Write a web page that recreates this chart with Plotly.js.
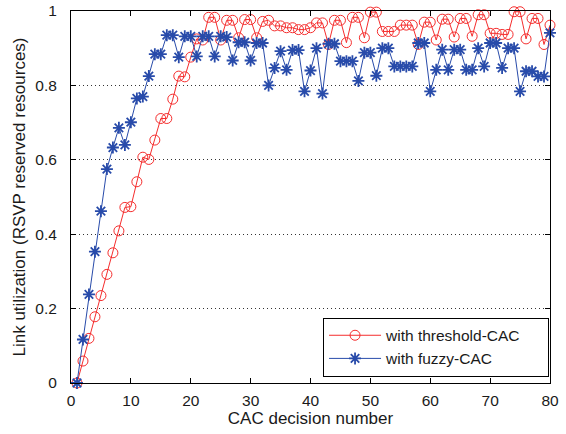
<!DOCTYPE html>
<html>
<head>
<meta charset="utf-8">
<script src="https://cdn.plot.ly/plotly-3.0.1.min.js"></script>
<style>html,body{margin:0;padding:0;background:#fff;}#chart{width:566px;height:434px;}</style>
</head>
<body>
<div id="chart"></div>
<script>
// CAC decision numbers 1..80
const decisions = [];
for (let i = 1; i <= 80; i++) decisions.push(i);

const thresholdCAC = [
  0, 0.059, 0.120, 0.178, 0.235, 0.292, 0.350, 0.409, 0.472, 0.474,
  0.541, 0.607, 0.601, 0.653, 0.711, 0.711, 0.763, 0.825, 0.823, 0.876,
  0.925, 0.922, 0.983, 0.983, 0.922, 0.975, 0.975, 0.928, 0.977, 0.977,
  0.928, 0.972, 0.975, 0.960, 0.960, 0.955, 0.955, 0.950, 0.950, 0.955,
  0.968, 0.968, 0.910, 0.975, 0.975, 0.915, 0.983, 0.983, 0.928, 0.997,
  0.997, 0.945, 0.945, 0.945, 0.962, 0.962, 0.962, 0.910, 0.970, 0.970,
  0.922, 0.978, 0.978, 0.930, 0.980, 0.980, 0.932, 0.990, 0.990, 0.940,
  0.940, 0.937, 0.937, 0.998, 0.998, 0.925, 0.980, 0.980, 0.910, 0.962
];

const fuzzyCAC = [
  0, 0.117, 0.238, 0.353, 0.462, 0.575, 0.633, 0.686, 0.640, 0.701,
  0.765, 0.770, 0.825, 0.884, 0.884, 0.935, 0.935, 0.876, 0.932, 0.932,
  0.878, 0.932, 0.932, 0.878, 0.932, 0.930, 0.867, 0.916, 0.916, 0.867,
  0.914, 0.914, 0.800, 0.847, 0.892, 0.842, 0.895, 0.895, 0.784, 0.840,
  0.900, 0.778, 0.912, 0.912, 0.865, 0.865, 0.865, 0.812, 0.888, 0.888,
  0.826, 0.900, 0.900, 0.851, 0.851, 0.851, 0.851, 0.914, 0.914, 0.784,
  0.842, 0.896, 0.842, 0.896, 0.896, 0.842, 0.842, 0.900, 0.851, 0.914,
  0.914, 0.847, 0.900, 0.900, 0.784, 0.838, 0.838, 0.824, 0.824, 0.941
];

const seriesNames = ['with threshold-CAC', 'with fuzzy-CAC'];
const xTicks = [0, 10, 20, 30, 40, 50, 60, 70, 80];
const yTicks = [0, 0.2, 0.4, 0.6, 0.8, 1];
const yTickLabels = ['0', '0.2', '0.4', '0.6', '0.8', '1'];

const RED = 'rgb(245,45,45)';
const BLUE = 'rgb(40,75,170)';
const FONT = 'Liberation Sans, Arial, sans-serif';
const PAD = '\u00a0\u00a0\u00a0\u00a0\u00a0';

const traces = [
  {
    x: decisions, y: thresholdCAC, name: seriesNames[0] + PAD,
    type: 'scatter', mode: 'lines+markers', cliponaxis: false,
    line: {color: RED, width: 1},
    marker: {symbol: 'circle-open', size: 10, color: RED, line: {color: RED, width: 1}}
  },
  {
    x: decisions, y: fuzzyCAC, name: seriesNames[1],
    type: 'scatter', mode: 'lines+markers', cliponaxis: false,
    line: {color: BLUE, width: 1},
    marker: {symbol: 'asterisk-open', size: 10, color: BLUE, line: {color: BLUE, width: 1.8}}
  }
];

const layout = {
  width: 566, height: 434,
  margin: {l: 71, r: 16, t: 11, b: 51, pad: 0},
  paper_bgcolor: '#fff', plot_bgcolor: '#fff',
  font: {family: FONT, size: 15, color: '#1a1a1a'},
  showlegend: true,
  legend: {
    x: 0.998, y: 0.017, xanchor: 'right', yanchor: 'bottom',
    bgcolor: '#fff', bordercolor: '#000', borderwidth: 1,
    font: {family: FONT, size: 15.5, color: '#1a1a1a'},
    itemwidth: 52, tracegroupgap: 4
  },
  xaxis: {
    range: [0, 80], tickvals: xTicks, ticktext: xTicks.map(String),
    ticks: 'inside', ticklen: 5, tickcolor: '#000', mirror: 'ticks',
    showline: true, linecolor: '#000', linewidth: 1,
    showgrid: false, zeroline: false, ticklabelstandoff: 3,
    tickfont: {family: FONT, size: 15.5, color: '#1a1a1a'},
    title: {text: 'CAC decision number', font: {family: FONT, size: 17, color: '#1a1a1a'}, standoff: 3}
  },
  yaxis: {
    range: [0, 1], tickvals: yTicks, ticktext: yTickLabels,
    ticks: 'inside', ticklen: 5, tickcolor: '#000', mirror: 'ticks',
    showline: true, linecolor: '#000', linewidth: 1,
    showgrid: true, gridcolor: '#333', gridwidth: 1, griddash: '1px,3px',
    zeroline: false, ticklabelstandoff: 10,
    tickfont: {family: FONT, size: 15.5, color: '#1a1a1a'},
    title: {text: 'Link utilization (RSVP reserved resources)', font: {family: FONT, size: 17, color: '#1a1a1a'}, standoff: 5}
  }
};

Plotly.newPlot('chart', traces, layout, {displayModeBar: false, staticPlot: true});
</script>
</body>
</html>
